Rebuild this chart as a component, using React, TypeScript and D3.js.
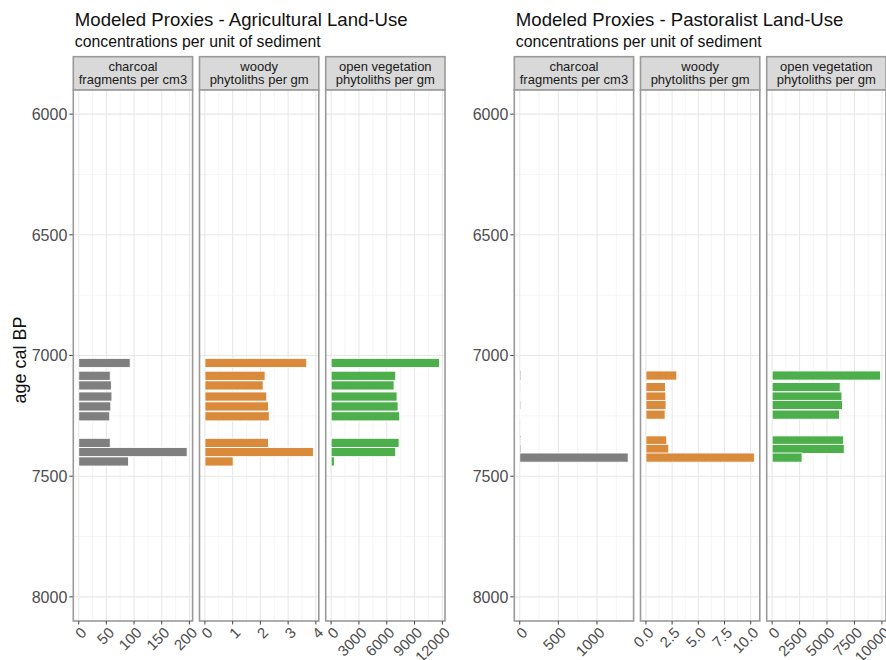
import React from "react";
import * as d3 from "d3";

// ---------- data ----------
const agesAgri = [7031, 7084, 7124, 7170, 7211, 7252, 7362, 7400, 7439];
const charcoalAgri = [93, 57, 59, 60, 58, 56, 57, 196, 90];
const woodyAgri = [3.67, 2.17, 2.1, 2.23, 2.29, 2.32, 2.29, 3.91, 1.02];
const openVegAgri = [11700, 6970, 6790, 7110, 7220, 7400, 7330, 6970, 350];

const agesPast = [7083, 7131, 7170, 7205, 7245, 7352, 7387, 7423];
const charcoalPast = [15, 12, 10, 14, 11, 13, 16, 1404];
const woodyPast = [2.95, 1.86, 1.9, 1.92, 1.83, 1.99, 2.18, 10.35];
const openVegPast = [9880, 6200, 6360, 6410, 6140, 6510, 6570, 2730];

const yTicks = [6000, 6500, 7000, 7500, 8000];
const ageLimits = [6000, 8000];

const ticksCharcoalAgri = [0, 50, 100, 150, 200];
const ticksWoodyAgri = [0, 1, 2, 3, 4];
const ticksOpenAgri = [0, 3000, 6000, 9000, 12000];
const ticksCharcoalPast = [0, 500, 1000];
const ticksWoodyPast = [0, 2.5, 5, 7.5, 10];
const labelsWoodyPast = ["0.0", "2.5", "5.0", "7.5", "10.0"];
const ticksOpenPast = [0, 2500, 5000, 7500, 10000];

const stripLabels = [
  ["charcoal", "fragments per cm3"],
  ["woody", "phytoliths per gm"],
  ["open vegetation", "phytoliths per gm"],
];
const proxyColors = ["#7f7f7f", "#d98a3b", "#4dae4c"];

const titles = ["Modeled Proxies - Agricultural Land-Use", "Modeled Proxies - Pastoralist Land-Use"];
const subtitle = "concentrations per unit of sediment";
const yTitle = "age cal BP";

// ---------- layout ----------
const W = 886;
const H = 660;
const stripTop = 56.7;
const panelTop = 90;
const panelBottom = 621;
const panelW = 119.3;
const panelGap = 6.9;
const barYears = 38;
const font = "'Liberation Sans', Arial, Helvetica, sans-serif";

type PanelSpec = { values: number[]; ticks: number[]; labels?: string[] };

function Facet({ x0, ages, spec, color, strip }: { x0: number; ages: number[]; spec: PanelSpec; color: string; strip: string[] }) {
  const max = d3.max(spec.values) as number;
  const x = d3.scaleLinear().domain([-0.05 * max, 1.05 * max]).range([x0, x0 + panelW]);
  const span = ageLimits[1] - ageLimits[0];
  const y = d3
    .scaleLinear()
    .domain([ageLimits[0] - 0.05 * span, ageLimits[1] + 0.05 * span])
    .range([panelTop, panelBottom]);
  const step = spec.ticks[1] - spec.ticks[0];
  const dom = x.domain();
  const minorX = d3.range(-1, spec.ticks.length).map((i) => spec.ticks[0] + (i + 0.5) * step).filter((v) => v > dom[0] && v < dom[1]);
  const yStep = yTicks[1] - yTicks[0];
  const minorY = d3.range(-1, yTicks.length).map((i) => yTicks[0] + (i + 0.5) * yStep).filter((v) => v > y.domain()[0] && v < y.domain()[1]);
  const majorX = spec.ticks.filter((v) => v >= dom[0] && v <= dom[1]);
  const bh = Math.abs(y(barYears) - y(0));
  return (
    <g>
      {/* strip */}
      <rect x={x0} y={stripTop} width={panelW} height={panelTop - stripTop} fill="#d9d9d9" stroke="#9a9a9a" strokeWidth={1.6} />
      {strip.map((s, i) => (
        <text key={i} x={x0 + panelW / 2} y={70.5 + i * 13.7} textAnchor="middle" fontSize={13} fill="#1a1a1a" fontFamily={font}>
          {s}
        </text>
      ))}
      {/* panel background + grid */}
      <rect x={x0} y={panelTop} width={panelW} height={panelBottom - panelTop} fill="#ffffff" />
      {minorX.map((v) => (
        <line key={"mx" + v} x1={x(v)} x2={x(v)} y1={panelTop} y2={panelBottom} stroke="#f3f3f3" strokeWidth={0.8} />
      ))}
      {minorY.map((v) => (
        <line key={"my" + v} x1={x0} x2={x0 + panelW} y1={y(v)} y2={y(v)} stroke="#f3f3f3" strokeWidth={0.8} />
      ))}
      {majorX.map((v) => (
        <line key={"Mx" + v} x1={x(v)} x2={x(v)} y1={panelTop} y2={panelBottom} stroke="#e8e8e8" strokeWidth={1.1} />
      ))}
      {yTicks.map((v) => (
        <line key={"My" + v} x1={x0} x2={x0 + panelW} y1={y(v)} y2={y(v)} stroke="#e8e8e8" strokeWidth={1.1} />
      ))}
      {/* bars */}
      {spec.values.map((v, i) => (
        <rect
          key={"b" + i}
          x={x(0)}
          y={y(ages[i]) - bh / 2}
          width={Math.max(0, x(v) - x(0))}
          height={bh}
          fill={color}
          stroke="#ffffff"
          strokeWidth={0.9}
        />
      ))}
      {/* border */}
      <rect x={x0} y={panelTop} width={panelW} height={panelBottom - panelTop} fill="none" stroke="#9a9a9a" strokeWidth={1.6} />
      {/* x axis */}
      {majorX.map((v) => (
        <g key={"xt" + v}>
          <line x1={x(v)} x2={x(v)} y1={panelBottom} y2={panelBottom + 3.5} stroke="#444" strokeWidth={1} />
          <text
            transform={`translate(${x(v) + 1},${panelBottom + 5}) rotate(-45)`}
            textAnchor="end"
            dy="0.72em"
            fontSize={15}
            fill="#4d4d4d"
            fontFamily={font}
          >
            {spec.labels ? spec.labels[spec.ticks.indexOf(v)] : String(v)}
          </text>
        </g>
      ))}
    </g>
  );
}

function Chart({ left, ages, specs, title, showYTitle }: { left: number; ages: number[]; specs: PanelSpec[]; title: string; showYTitle: boolean }) {
  const span = ageLimits[1] - ageLimits[0];
  const y = d3
    .scaleLinear()
    .domain([ageLimits[0] - 0.05 * span, ageLimits[1] + 0.05 * span])
    .range([panelTop, panelBottom]);
  return (
    <g>
      <text x={left + 1.5} y={26} fontSize={18.6} fill="#111" fontFamily={font}>
        {title}
      </text>
      <text x={left + 1.5} y={47} fontSize={15.8} fill="#111" fontFamily={font}>
        {subtitle}
      </text>
      {showYTitle && (
        <text transform={`translate(26,${360}) rotate(-90)`} textAnchor="middle" fontSize={18} fill="#111" fontFamily={font}>
          {yTitle}
        </text>
      )}
      {yTicks.map((v) => (
        <g key={"yt" + v}>
          <line x1={left - 4} x2={left} y1={y(v)} y2={y(v)} stroke="#444" strokeWidth={1} />
          <text x={left - 6} y={y(v)} dy="0.36em" textAnchor="end" fontSize={16} fill="#4d4d4d" fontFamily={font}>
            {v}
          </text>
        </g>
      ))}
      {specs.map((s, i) => (
        <Facet key={i} x0={left + i * (panelW + panelGap)} ages={ages} spec={s} color={proxyColors[i]} strip={stripLabels[i]} />
      ))}
    </g>
  );
}

export default function App() {
  const agriSpecs: PanelSpec[] = [
    { values: charcoalAgri, ticks: ticksCharcoalAgri },
    { values: woodyAgri, ticks: ticksWoodyAgri },
    { values: openVegAgri, ticks: ticksOpenAgri },
  ];
  const pastSpecs: PanelSpec[] = [
    { values: charcoalPast, ticks: ticksCharcoalPast },
    { values: woodyPast, ticks: ticksWoodyPast, labels: labelsWoodyPast },
    { values: openVegPast, ticks: ticksOpenPast },
  ];
  return (
    <svg width={W} height={H} style={{ position: "absolute", left: 0, top: 0, background: "#fff" }}>
      <rect width={W} height={H} fill="#fff" />
      <Chart left={73.3} ages={agesAgri} specs={agriSpecs} title={titles[0]} showYTitle={true} />
      <Chart left={514.3} ages={agesPast} specs={pastSpecs} title={titles[1]} showYTitle={false} />
    </svg>
  );
}
